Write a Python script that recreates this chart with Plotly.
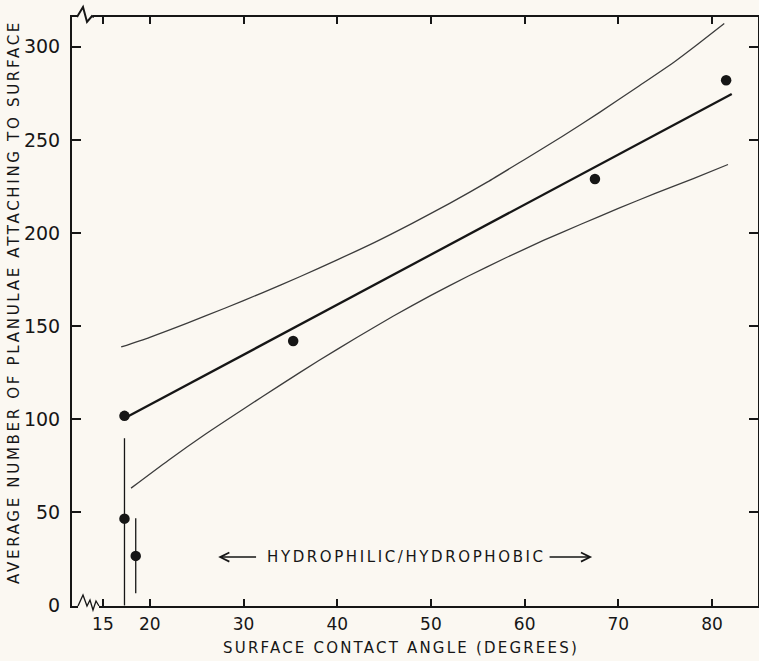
import plotly.graph_objects as go

# ---- data ----
pts_x = [17.3, 17.3, 18.5, 35.3, 67.5, 81.5]
pts_y = [101.8, 46.6, 26.6, 142.0, 229.0, 282.0]

fit_x = [17.5, 82.1]
fit_y = [101.0, 274.7]

upper_x = [16.95, 20, 24, 28, 32, 36, 40, 44, 48, 52, 56, 60, 64, 68, 72, 76, 78.5, 81.3]
upper_y = [138.8, 144.0, 151.6, 159.6, 167.9, 176.5, 185.6, 195.0, 205.2, 215.9, 227.3, 239.5,
           251.8, 264.8, 278.3, 292.0, 301.5, 312.5]

lower_x = [18.0, 22, 26, 30, 34, 38, 42, 46, 50, 54, 58, 62, 66, 70, 74, 78, 81.7]
lower_y = [63.0, 78.0, 92.2, 105.5, 118.6, 131.4, 143.6, 155.4, 166.5, 176.9, 186.7, 196.0,
           204.7, 213.2, 221.4, 229.2, 236.8]

range1_x = [17.3, 17.3]
range1_y = [89.8, 0.0]
range2_x = [18.5, 18.5]
range2_y = [46.8, 6.5]

x_ticks = [15, 20, 30, 40, 50, 60, 70, 80]
y_ticks = [0, 50, 100, 150, 200, 250, 300]

INK = "#161616"
BG = "#fbf8f2"
FONT = "DejaVu Sans"


def spaced(txt, px):
    return f'<span style="letter-spacing:{px}px">{txt}</span>'


fig = go.Figure()

band_line = dict(color="#3c3c3c", width=1.3, shape="spline", smoothing=0.6)
fig.add_trace(go.Scatter(x=upper_x, y=upper_y, mode="lines", line=band_line, hoverinfo="skip"))
fig.add_trace(go.Scatter(x=lower_x, y=lower_y, mode="lines", line=band_line, hoverinfo="skip"))
fig.add_trace(go.Scatter(x=fit_x, y=fit_y, mode="lines", line=dict(color=INK, width=2.3)))
fig.add_trace(go.Scatter(x=range1_x, y=range1_y, mode="lines", line=dict(color=INK, width=1.3)))
fig.add_trace(go.Scatter(x=range2_x, y=range2_y, mode="lines", line=dict(color=INK, width=1.3)))
fig.add_trace(go.Scatter(x=pts_x, y=pts_y, mode="markers", marker=dict(color=INK, size=10.5)))

fig.update_layout(
    width=759, height=661,
    paper_bgcolor=BG, plot_bgcolor=BG,
    margin=dict(l=72, r=1, t=17, b=55, autoexpand=False),
    showlegend=False,
    font=dict(family=FONT, color=INK),
)

fig.update_xaxes(
    range=[11.7, 84.9], tickvals=x_ticks, ticktext=[str(v) for v in x_ticks],
    ticks="inside", ticklen=7, tickwidth=1.5, tickcolor=INK,
    showline=True, linecolor=INK, linewidth=2, mirror="allticks",
    showgrid=False, zeroline=False, automargin=False,
    tickfont=dict(size=17, family=FONT, color=INK), ticklabelstandoff=2,
)
fig.update_yaxes(
    range=[-0.3, 316], tickvals=y_ticks,
    ticks="inside", ticklen=9, tickwidth=2, tickcolor=INK,
    showline=True, linecolor=INK, linewidth=2, mirror="allticks",
    showgrid=False, zeroline=False, automargin=False,
    tickfont=dict(size=19, family=FONT, color=INK), ticklabelstandoff=6,
)

# axis titles
fig.add_annotation(text=spaced("AVERAGE NUMBER OF PLANULAE ATTACHING TO SURFACE", 2.7), textangle=-90,
                   xref="paper", yref="paper", x=(14 - 72) / 686, y=(606 - 302) / 589,
                   xanchor="center", yanchor="middle", showarrow=False,
                   font=dict(size=15, family=FONT, color=INK))
fig.add_annotation(text=spaced("SURFACE CONTACT ANGLE (DEGREES)", 2.2),
                   xref="paper", yref="paper", x=(401 - 72) / 686, y=(606 - 648) / 589,
                   xanchor="center", yanchor="middle", showarrow=False,
                   font=dict(size=15, family=FONT, color=INK))

# hydrophilic / hydrophobic label with arrows
fig.add_annotation(text=spaced("HYDROPHILIC/HYDROPHOBIC", 2.6), x=47.4, y=26, xref="x", yref="y",
                   showarrow=False, font=dict(size=15, family=FONT, color=INK))
fig.add_annotation(x=27.3, y=26, ax=31.5, ay=26, xref="x", yref="y", axref="x", ayref="y",
                   text="", showarrow=True, arrowhead=5, arrowsize=1.2, arrowwidth=1.5, arrowcolor=INK)
fig.add_annotation(x=67.2, y=26, ax=62.5, ay=26, xref="x", yref="y", axref="x", ayref="y",
                   text="", showarrow=True, arrowhead=5, arrowsize=1.2, arrowwidth=1.5, arrowcolor=INK)

# axis break marks (pixel positions converted to paper coords)
def px(xp):
    return (xp - 72) / 686


def py(yp):
    return (606 - yp) / 589


# bottom-left break
fig.add_shape(type="rect", xref="paper", yref="paper", x0=px(78), x1=px(99), y0=py(612), y1=py(600),
              fillcolor=BG, line=dict(width=0), layer="above")
fig.add_shape(type="path", xref="paper", yref="paper", layer="above",
              path=f"M {px(78)},{py(606)} L {px(83)},{py(595)} L {px(87)},{py(606)} L {px(90)},{py(600)} L {px(93)},{py(610)} L {px(96)},{py(601)} L {px(99)},{py(606)}",
              line=dict(color=INK, width=1.3))
# top-left break
fig.add_shape(type="rect", xref="paper", yref="paper", x0=px(78), x1=px(93), y0=py(22), y1=py(12),
              fillcolor=BG, line=dict(width=0), layer="above")
fig.add_shape(type="path", xref="paper", yref="paper", layer="above",
              path=f"M {px(77)},{py(17)} L {px(83)},{py(7)} L {px(87)},{py(22)} L {px(92)},{py(16)} L {px(94)},{py(17)}",
              line=dict(color=INK, width=2))

fig.write_html(
    "out.html",
    config={"displayModeBar": False},
    post_script="document.body.style.margin='0px';document.body.style.overflow='hidden';"
                "document.body.style.background='" + BG + "';",
)
